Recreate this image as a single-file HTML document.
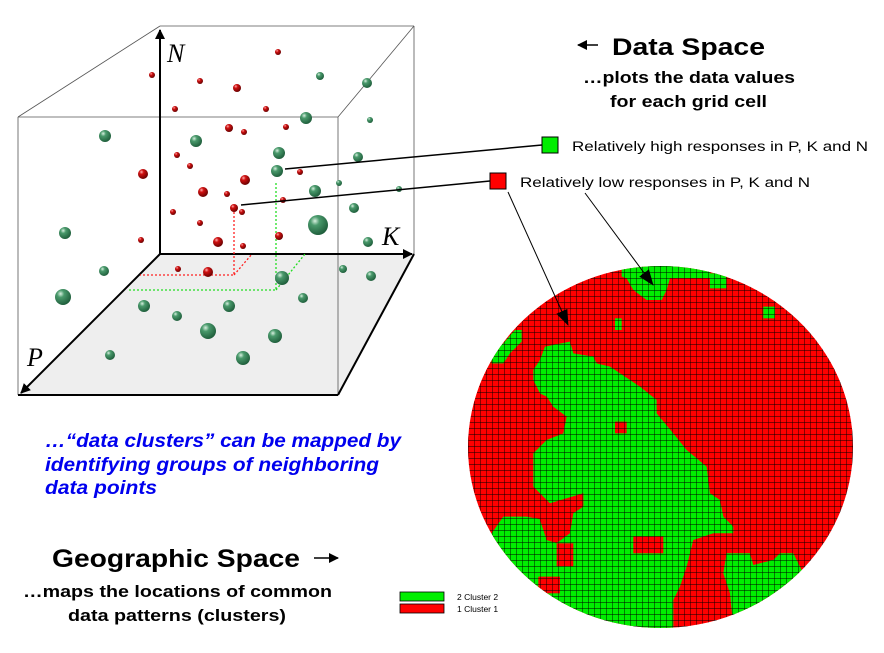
<!DOCTYPE html>
<html><head><meta charset="utf-8"><style>html,body{margin:0;padding:0;background:#fff}svg{display:block}</style></head>
<body>
<svg width="884" height="653" viewBox="0 0 884 653" xmlns="http://www.w3.org/2000/svg" font-family="Liberation Sans, Arial, sans-serif">
<defs>
<radialGradient id="gr" cx="0.35" cy="0.3" r="0.75"><stop offset="0" stop-color="#d8f0e0"/><stop offset="0.3" stop-color="#4a9a6c"/><stop offset="1" stop-color="#1c5a38"/></radialGradient>
<radialGradient id="rd" cx="0.35" cy="0.3" r="0.75"><stop offset="0" stop-color="#ffb0b0"/><stop offset="0.3" stop-color="#d01010"/><stop offset="1" stop-color="#600000"/></radialGradient>
<clipPath id="circ"><ellipse cx="660.5" cy="447" rx="192.5" ry="181"/></clipPath>
<pattern id="grid" x="468" y="266" width="6" height="6" patternUnits="userSpaceOnUse"><path d="M0 0H6M0 0V6" stroke="#000" stroke-width="0.9" fill="none"/></pattern>
<marker id="ah" markerWidth="10" markerHeight="10" refX="9" refY="5" orient="auto" markerUnits="userSpaceOnUse"><path d="M0 0L10 5L0 10z" fill="#000"/></marker>
<marker id="ah2" markerWidth="16" markerHeight="16" refX="15" refY="8" orient="auto" markerUnits="userSpaceOnUse"><path d="M0 2L16 8L0 14z" fill="#000"/></marker>
</defs>

<!-- 3D box -->
<polygon points="160,254 414,254 338,395 18,395" fill="#eeeeee"/>
<g stroke="#555" stroke-width="0.8" fill="none">
<line x1="160" y1="26" x2="414" y2="26"/><line x1="414" y1="26" x2="414" y2="254"/>
<line x1="18" y1="117" x2="338" y2="117"/><line x1="18" y1="117" x2="18" y2="395"/>
<line x1="338" y1="117" x2="338" y2="395"/>
<line x1="160" y1="26" x2="18" y2="117"/><line x1="414" y1="26" x2="338" y2="117"/>
</g>
<g stroke="#000" stroke-width="2" fill="none">
<line x1="160" y1="254" x2="160" y2="30" marker-end="url(#ah)"/>
<line x1="160" y1="254" x2="412" y2="254" marker-end="url(#ah)"/>
<line x1="160" y1="254" x2="21" y2="393" marker-end="url(#ah)"/>
<line x1="18" y1="395" x2="338" y2="395"/><line x1="338" y1="395" x2="414" y2="254"/>
</g>
<g font-family="Liberation Serif, serif" font-style="italic" font-size="26" fill="#000">
<text x="167" y="62">N</text><text x="382" y="245">K</text><text x="27" y="366">P</text>
</g>
<g stroke-dasharray="2,2" stroke-width="1.3" fill="none">
<polyline points="234,212 234,275 140,275" stroke="#ff2020"/><line x1="234" y1="275" x2="252" y2="254" stroke="#ff2020"/>
<polyline points="276,183 276,290 128,290" stroke="#22dd22"/><line x1="276" y1="290" x2="305" y2="254" stroke="#22dd22"/>
</g>
<g fill="url(#rd)">
<circle cx="152" cy="75" r="3"/><circle cx="200" cy="81" r="3"/><circle cx="237" cy="88" r="4"/><circle cx="175" cy="109" r="3"/><circle cx="266" cy="109" r="3"/><circle cx="229" cy="128" r="4"/><circle cx="244" cy="132" r="3"/><circle cx="286" cy="127" r="3"/><circle cx="143" cy="174" r="5"/><circle cx="177" cy="155" r="3"/><circle cx="190" cy="166" r="3"/><circle cx="245" cy="180" r="5"/><circle cx="203" cy="192" r="5"/><circle cx="227" cy="194" r="3"/><circle cx="234" cy="208" r="4"/><circle cx="242" cy="212" r="3"/><circle cx="173" cy="212" r="3"/><circle cx="200" cy="223" r="3"/><circle cx="218" cy="242" r="5"/><circle cx="243" cy="246" r="3"/><circle cx="141" cy="240" r="3"/><circle cx="279" cy="236" r="4"/><circle cx="178" cy="269" r="3"/><circle cx="208" cy="272" r="5"/><circle cx="300" cy="172" r="3"/><circle cx="278" cy="52" r="3"/><circle cx="283" cy="200" r="3"/>
</g>
<g fill="url(#gr)">
<circle cx="105" cy="136" r="6"/><circle cx="196" cy="141" r="6"/><circle cx="320" cy="76" r="4"/><circle cx="367" cy="83" r="5"/><circle cx="306" cy="118" r="6"/><circle cx="370" cy="120" r="3"/><circle cx="279" cy="153" r="6"/><circle cx="277" cy="171" r="6"/><circle cx="358" cy="157" r="5"/><circle cx="339" cy="183" r="3"/><circle cx="315" cy="191" r="6"/><circle cx="399" cy="189" r="3"/><circle cx="354" cy="208" r="5"/><circle cx="318" cy="225" r="10"/><circle cx="65" cy="233" r="6"/><circle cx="368" cy="242" r="5"/><circle cx="104" cy="271" r="5"/><circle cx="343" cy="269" r="4"/><circle cx="371" cy="276" r="5"/><circle cx="63" cy="297" r="8"/><circle cx="282" cy="278" r="7"/><circle cx="144" cy="306" r="6"/><circle cx="177" cy="316" r="5"/><circle cx="229" cy="306" r="6"/><circle cx="303" cy="298" r="5"/><circle cx="208" cy="331" r="8"/><circle cx="275" cy="336" r="7"/><circle cx="110" cy="355" r="5"/><circle cx="243" cy="358" r="7"/>
</g>
<line x1="285" y1="169" x2="542" y2="145" stroke="#000" stroke-width="1.5"/>
<line x1="241" y1="205" x2="490" y2="181" stroke="#000" stroke-width="1.5"/>
<rect x="542" y="137" width="16" height="16" fill="#00ee00" stroke="#000"/>
<rect x="490" y="173" width="16" height="16" fill="#ff0000" stroke="#000"/>

<!-- map -->
<g clip-path="url(#circ)">
<rect x="460" y="260" width="400" height="380" fill="#ff0000"/>
<g transform="translate(460,260) scale(0.3333)" fill="#00ee00">
<polygon points="255,260 330,245 340,280 400,290 410,310 450,320 540,380 590,420 590,460 640,520 680,570 740,620 750,700 780,720 790,770 820,800 820,820 760,820 700,840 680,920 660,980 640,1020 640,1120 360,1120 320,1060 240,1010 200,960 150,930 100,880 95,820 130,770 200,770 250,780 270,730 240,700 220,680 220,580 260,540 310,520 320,470 280,440 260,410 240,400 220,360 220,330 240,300"/>
<polygon points="800,880 870,880 880,915 940,900 960,880 1000,880 1030,940 990,990 940,1030 860,1070 820,1100 810,1000 790,940"/>
<polygon points="485,15 750,15 750,55 630,55 620,90 605,120 560,120 520,90 500,55 485,50"/>
<rect x="750" y="40" width="50" height="45"/><rect x="910" y="140" width="35" height="35"/><rect x="465" y="175" width="20" height="35"/>
<polygon points="165,210 185,210 185,245 150,280 130,310 95,310 95,280 130,250"/>
</g>
<g transform="translate(460,260) scale(0.3333)" fill="#ff0000">
<polygon points="270,730 370,700 370,740 340,760 330,820 290,850 260,840 240,780"/>
<rect x="520" y="830" width="90" height="50"/><rect x="235" y="950" width="65" height="50"/><rect x="290" y="850" width="50" height="70"/><rect x="465" y="485" width="35" height="35"/>
</g>
<rect x="460" y="260" width="400" height="380" fill="url(#grid)"/>
</g>
<line x1="508" y1="192" x2="568" y2="325" stroke="#000" stroke-width="1" marker-end="url(#ah2)"/>
<line x1="585" y1="193" x2="653" y2="285" stroke="#000" stroke-width="1" marker-end="url(#ah2)"/>

<!-- legend -->
<rect x="400" y="592" width="44" height="9" fill="#00ee00" stroke="#000" stroke-width="0.8"/>
<rect x="400" y="604" width="44" height="9" fill="#ff0000" stroke="#000" stroke-width="0.8"/>
<text x="457" y="600" font-size="8.5">2 Cluster 2</text>
<text x="457" y="612" font-size="8.5">1 Cluster 1</text>

<!-- text -->
<line x1="598" y1="45" x2="578" y2="45" stroke="#000" stroke-width="1.5" marker-end="url(#ah)"/>
<text x="612" y="55" font-size="24" font-weight="bold" textLength="153" lengthAdjust="spacingAndGlyphs">Data Space</text>
<text x="583" y="83" font-size="17" font-weight="bold" textLength="212" lengthAdjust="spacingAndGlyphs">…plots the data values</text>
<text x="610" y="107" font-size="17" font-weight="bold" textLength="157" lengthAdjust="spacingAndGlyphs">for each grid cell</text>
<text x="572" y="151" font-size="13.5" textLength="296" lengthAdjust="spacingAndGlyphs">Relatively high  responses in P, K and N</text>
<text x="520" y="187" font-size="13.5" textLength="290" lengthAdjust="spacingAndGlyphs">Relatively low  responses in P, K and N</text>
<g fill="#0000ee" font-size="19" font-weight="bold" font-style="italic">
<text x="45" y="447" textLength="356" lengthAdjust="spacingAndGlyphs">…“data clusters” can be mapped by</text>
<text x="45" y="471" textLength="334" lengthAdjust="spacingAndGlyphs">identifying groups of neighboring</text>
<text x="45" y="494" textLength="112" lengthAdjust="spacingAndGlyphs">data points</text>
</g>
<text x="52" y="567" font-size="25" font-weight="bold" textLength="248" lengthAdjust="spacingAndGlyphs">Geographic Space</text>
<line x1="314" y1="558" x2="338" y2="558" stroke="#000" stroke-width="1.5" marker-end="url(#ah)"/>
<text x="23" y="597" font-size="17" font-weight="bold" textLength="309" lengthAdjust="spacingAndGlyphs">…maps the locations of common</text>
<text x="68" y="621" font-size="17" font-weight="bold" textLength="218" lengthAdjust="spacingAndGlyphs">data patterns (clusters)</text>
</svg>
</body></html>
